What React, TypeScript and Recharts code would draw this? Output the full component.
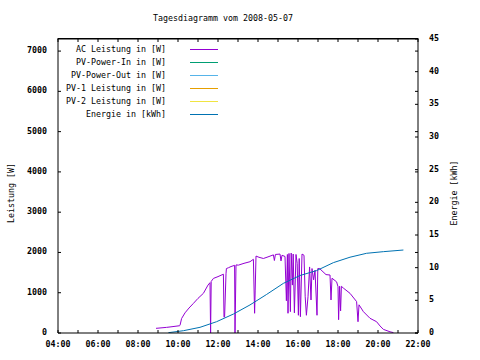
import { Line, LineChart, XAxis, YAxis } from 'recharts';

const title = 'Tagesdiagramm vom 2008-05-07';
const leftLabel = 'Leistung [W]';
const rightLabel = 'Energie [kWh]';

const hourTicks = [4, 5, 6, 7, 8, 9, 10, 11, 12, 13, 14, 15, 16, 17, 18, 19, 20, 21, 22];
const powerTicks = [0, 1000, 2000, 3000, 4000, 5000, 6000, 7000];
const energyTicks = [0, 5, 10, 15, 20, 25, 30, 35, 40, 45];
const powerMax = 7300;

// AC power, hours of day -> watts
const acHours = [
  8.9, 9.0, 9.43, 9.6, 10.07, 10.1, 10.18, 10.35, 10.55, 10.77, 11.0, 11.27, 11.5, 11.6,
  11.63, 11.66, 11.77, 12.0, 12.27, 12.3, 12.33, 12.4, 12.42, 12.52, 12.65, 12.83, 12.85,
  12.9, 13.02, 13.3, 13.6, 13.77, 13.83, 13.86, 13.9, 14.05, 14.27, 14.5,
  14.77, 14.82, 14.87, 15.1, 15.15, 15.2, 15.35, 15.42, 15.47, 15.5, 15.55,
  15.62, 15.66, 15.72, 15.76, 15.82, 15.9, 15.96, 16.02, 16.06, 16.12, 16.2,
  16.3, 16.36, 16.42, 16.5, 16.58, 16.65, 16.7, 16.78, 16.85, 16.95, 16.99,
  17.08, 17.25, 17.4, 17.6, 17.65, 17.7, 17.93, 18.0, 18.03, 18.08, 18.13, 18.17, 18.27,
  18.6, 18.93, 19.0, 19.05, 19.27, 19.6, 19.93, 20.1, 20.27, 20.6, 20.77,
];
const acWatts = [
  116, 120, 140, 150, 180, 190, 360, 500, 620, 735, 860, 985, 1190, 1250,
  0, 1280, 1355, 1400, 1460, 390, 400, 1470, 1600, 1620, 1650, 1680, 0,
  1690, 1685, 1730, 1770, 1830, 490, 1065, 1910, 1880, 1850, 1890,
  1940, 1800, 1950, 1960, 1790, 1930, 1900, 800, 1950, 490, 1975,
  530, 1985, 1190, 1960, 500, 1950, 1730, 440, 1850, 405, 1960,
  1930, 900, 440, 900, 1640, 820, 1600, 1320, 1560, 440, 1600,
  1600, 1520, 1450, 1440, 820, 1360, 1270, 1150, 330, 1160, 550, 1160, 1115,
  985, 780, 280, 700, 530, 365, 280, 175, 90, 30, 10,
];

// Energy, hours of day -> kWh
const energyHours = [
  9.52, 10.27, 11.1, 11.93, 12.77, 13.6, 14.43, 15.27, 16.1, 16.93, 17.77,
  18.6, 19.43, 20.27, 21.27,
];
const energyKwh = [
  0.05, 0.35, 0.87, 1.73, 2.9, 4.3, 5.9, 7.6, 8.8, 9.55, 10.77, 11.6, 12.2,
  12.45, 12.7,
];

const legendNames = [
  'AC Leistung in [W]',
  'PV-Power-In in [W]',
  'PV-Power-Out in [W]',
  'PV-1 Leistung in [W]',
  'PV-2 Leistung in [W]',
  'Energie in [kWh]',
];
const legendColors = ['#9400d3', '#009e73', '#56b4e9', '#e69f00', '#f0e442', '#0072b2'];

const font = "'DejaVu Sans Mono', 'Liberation Mono', monospace";

// plot box (matches the chart margins and axis sizes below)
const plotLeft = 58;
const plotRight = 418;
const plotTop = 39;
const plotBottom = 333;

const byHour = new Map<number, any>();
acHours.forEach((t, i) => byHour.set(t, { ...(byHour.get(t) || { t }), ac: acWatts[i] }));
energyHours.forEach((t, i) =>
  byHour.set(t, { ...(byHour.get(t) || { t }), energy: energyKwh[i] })
);
const data = Array.from(byHour.values()).sort((a, b) => a.t - b.t);

const pad = (n: number) => (n < 10 ? '0' + n : '' + n);

const BottomTick = ({ x, y, payload }: any) => (
  <g>
    <line x1={x} y1={y} x2={x} y2={y - 3} stroke='#000' />
    {payload.value % 2 === 0 && (
      <text x={x} y={y + 14} textAnchor='middle' fontFamily={font} fontSize={8.3} fontWeight='bold'>
        {pad(payload.value) + ':00'}
      </text>
    )}
  </g>
);

const LeftTick = ({ x, y, payload }: any) => (
  <g>
    <line x1={x} y1={y} x2={x + 3} y2={y} stroke='#000' />
    <text x={x - 11} y={y + 2} textAnchor='end' fontFamily={font} fontSize={8.3} fontWeight='bold'>
      {payload.value}
    </text>
  </g>
);

const RightTick = ({ x, y, payload }: any) => (
  <g>
    <line x1={x - 3} y1={y} x2={x} y2={y} stroke='#000' />
    <text x={x + 11} y={y + 2} textAnchor='start' fontFamily={font} fontSize={8.3} fontWeight='bold'>
      {payload.value}
    </text>
  </g>
);

export default function App() {
  const hx = (h: number) => plotLeft + ((h - 4) / 18) * (plotRight - plotLeft);
  const py = (v: number) => plotBottom - (v / powerMax) * (plotBottom - plotTop);

  return (
    <div style={{ position: 'absolute', left: 0, top: 0, width: 480, height: 360, background: '#fff' }}>
      <LineChart width={480} height={360} data={data} margin={{ top: 39, right: 0, bottom: 0, left: 0 }}>
        <XAxis
          xAxisId='b'
          dataKey='t'
          type='number'
          domain={[4, 22]}
          ticks={hourTicks}
          interval={0}
          height={27}
          tickSize={0}
          tickMargin={0}
          tickLine={false}
          axisLine={{ stroke: '#000' }}
          tick={<BottomTick />}
          allowDataOverflow
        />
        <YAxis
          yAxisId='left'
          domain={[0, powerMax]}
          ticks={powerTicks}
          interval={0}
          width={58}
          tickSize={0}
          tickMargin={0}
          tickLine={false}
          axisLine={{ stroke: '#000' }}
          tick={<LeftTick />}
          allowDataOverflow
        />
        <YAxis
          yAxisId='right'
          orientation='right'
          domain={[0, 45]}
          ticks={energyTicks}
          interval={0}
          width={62}
          tickSize={0}
          tickMargin={0}
          tickLine={false}
          axisLine={{ stroke: '#000' }}
          tick={<RightTick />}
          allowDataOverflow
        />
        <Line
          xAxisId='b'
          yAxisId='left'
          type='linear'
          dataKey='ac'
          stroke={legendColors[0]}
          strokeWidth={1}
          dot={false}
          connectNulls
          isAnimationActive={false}
        />
        <Line
          xAxisId='b'
          yAxisId='right'
          type='linear'
          dataKey='energy'
          stroke={legendColors[5]}
          strokeWidth={1}
          dot={false}
          connectNulls
          isAnimationActive={false}
        />
      </LineChart>

      <svg
        width={480}
        height={360}
        style={{ position: 'absolute', left: 0, top: 0, pointerEvents: 'none', zIndex: 2 }}
        fontFamily={font}
        fontSize={8.3}
      >
        {/* top border, mirrored hour ticks and mirrored power ticks */}
        <rect
          x={plotLeft - 0.5}
          y={plotTop - 1}
          width={plotRight - plotLeft + 1}
          height={1.5}
          fill='#000'
        />
        {hourTicks.map((h) => (
          <rect key={'t' + h} x={hx(h) - 0.5} y={plotTop} width={1} height={3} fill='#000' />
        ))}
        {powerTicks.map((v) => (
          <rect key={'m' + v} x={plotRight - 3} y={py(v) - 0.5} width={3} height={1} fill='#000' />
        ))}

        <text x={223} y={21} textAnchor='middle'>
          {title}
        </text>
        <text x={14} y={193} textAnchor='middle' transform='rotate(-90 14 193)'>
          {leftLabel}
        </text>
        <text x={457} y={193} textAnchor='middle' transform='rotate(-90 457 193)'>
          {rightLabel}
        </text>
        {legendNames.map((name, i) => (
          <g key={name}>
            <text x={166} y={52 + i * 13} textAnchor='end'>
              {name}
            </text>
            <line x1={190} y1={49.5 + i * 13} x2={218} y2={49.5 + i * 13} stroke={legendColors[i]} />
          </g>
        ))}
      </svg>
    </div>
  );
}
